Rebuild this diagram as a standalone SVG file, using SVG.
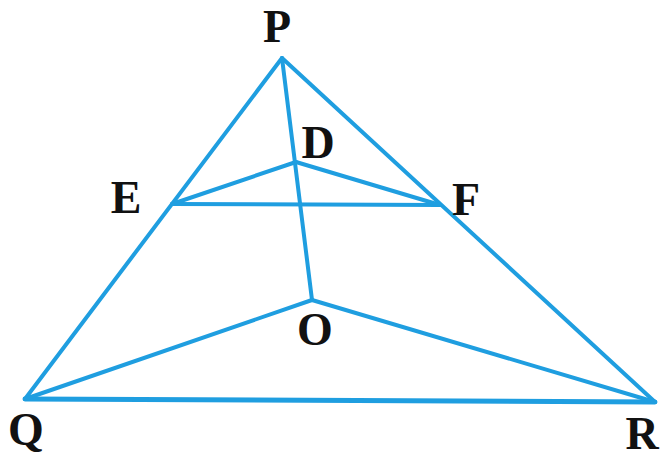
<svg xmlns="http://www.w3.org/2000/svg" width="662" height="463" viewBox="0 0 662 463">
<style>
.l{stroke:#1f9ee0;stroke-width:4;stroke-linecap:round;fill:none}
.t{font-family:"Liberation Serif","Times New Roman",serif;font-weight:bold;font-size:46px;fill:#111;text-anchor:middle}
</style>
<rect width="662" height="463" fill="#fff"/>
<g id="connectors">
<line class="l" x1="282" y1="58" x2="25" y2="399"/>
<line class="l" x1="282" y1="58" x2="655" y2="402"/>
<line class="l" x1="25" y1="399" x2="655" y2="402" style="stroke-width:5"/>
<line class="l" x1="282" y1="58" x2="312" y2="300"/>
<line class="l" x1="172" y1="204" x2="440" y2="205"/>
<line class="l" x1="172" y1="204" x2="296" y2="162"/>
<line class="l" x1="296" y1="162" x2="440" y2="205"/>
<line class="l" x1="25" y1="399" x2="312" y2="300"/>
<line class="l" x1="312" y1="300" x2="655" y2="402"/>
</g>
<g id="P"><text class="t" x="277" y="42">P</text></g>
<g id="D"><text class="t" x="318" y="158">D</text></g>
<g id="E"><text class="t" x="126" y="213">E</text></g>
<g id="F"><text class="t" x="466" y="215">F</text></g>
<g id="O"><text class="t" x="315" y="345">O</text></g>
<g id="Q"><text class="t" x="26" y="445">Q</text></g>
<g id="R"><text class="t" x="642" y="449">R</text></g>
</svg>
